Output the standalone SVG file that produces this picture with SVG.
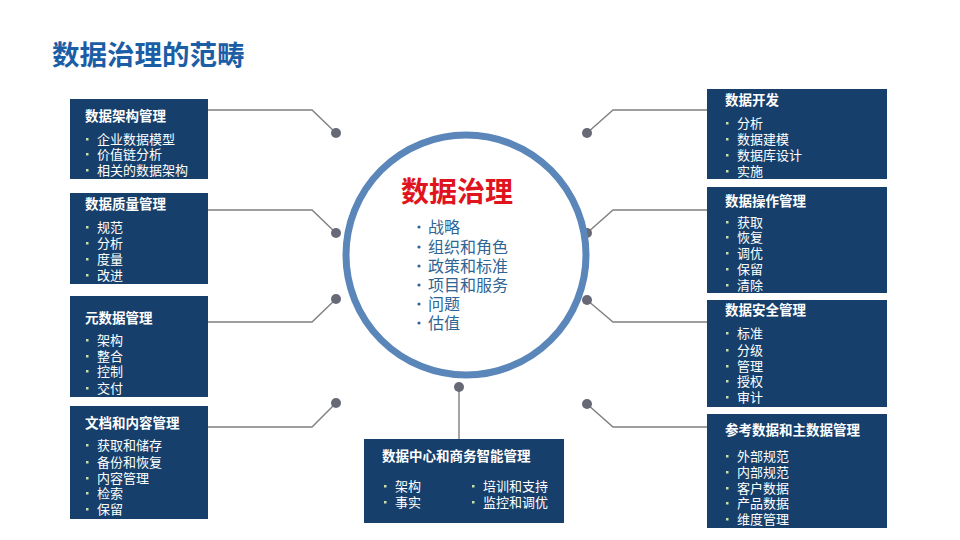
<svg xmlns="http://www.w3.org/2000/svg" width="960" height="540" viewBox="0 0 960 540">
<style>
text{font-family:"Noto Sans CJK SC","Noto Sans",sans-serif}
.box{fill:#173f6b}
.bt{fill:#ffffff;font-size:13.5px;font-weight:bold}
.it{fill:#ffffff;font-size:13px}
.bu{fill:#c8e2a8}
.con{fill:none;stroke:#7f7f7f;stroke-width:1.4}
.dot{fill:#676977}
.ci{fill:#2f6594;font-size:16px}
.cb{fill:#2f6594}
</style>
<rect width="960" height="540" fill="#ffffff"/>
<text x="52" y="65" style="font-size:27.5px;font-weight:bold;fill:#1c5ea6">数据治理的范畴</text>

<g id="connectors">
<polyline class="con" points="208,110 312,110 336,133"/>
<polyline class="con" points="208,210 312,210 336,233"/>
<polyline class="con" points="208,322 312,322 336,299"/>
<polyline class="con" points="208,427 312,427 336,403"/>
<polyline class="con" points="707,110 613,110 587,133"/>
<polyline class="con" points="707,210 613,210 587,233"/>
<polyline class="con" points="707,322 613,322 587,300"/>
<polyline class="con" points="707,427 613,427 587,404"/>
<line class="con" x1="459" y1="387" x2="459" y2="440"/>
<circle class="dot" cx="336" cy="133" r="5"/>
<circle class="dot" cx="336" cy="233" r="5"/>
<circle class="dot" cx="336" cy="299" r="5"/>
<circle class="dot" cx="336" cy="403" r="5"/>
<circle class="dot" cx="587" cy="133" r="5"/>
<circle class="dot" cx="587" cy="233" r="5"/>
<circle class="dot" cx="587" cy="300" r="5"/>
<circle class="dot" cx="587" cy="404" r="5"/>
</g>

<g id="center">
<circle cx="466" cy="255" r="120" fill="#ffffff" stroke="#5a86b9" stroke-width="7"/>
<circle class="dot" cx="459" cy="387" r="5"/>
<text x="457" y="202" text-anchor="middle" style="font-size:28px;font-weight:bold;fill:#e0141e">数据治理</text>
<circle class="cb" cx="419" cy="227" r="1.6"/><text class="ci" x="428" y="233">战略</text>
<circle class="cb" cx="419" cy="247" r="1.6"/><text class="ci" x="428" y="253">组织和角色</text>
<circle class="cb" cx="419" cy="266" r="1.6"/><text class="ci" x="428" y="272">政策和标准</text>
<circle class="cb" cx="419" cy="285" r="1.6"/><text class="ci" x="428" y="291">项目和服务</text>
<circle class="cb" cx="419" cy="304" r="1.6"/><text class="ci" x="428" y="310">问题</text>
<circle class="cb" cx="419" cy="323" r="1.6"/><text class="ci" x="428" y="329">估值</text>
</g>

<g id="n-arch">
<rect class="box" x="70" y="99" width="138" height="80"/>
<text class="bt" x="85" y="121">数据架构管理</text>
<rect class="bu" x="86" y="138" width="2.5" height="2.5"/><text class="it" x="97" y="144">企业数据模型</text>
<rect class="bu" x="86" y="153" width="2.5" height="2.5"/><text class="it" x="97" y="159">价值链分析</text>
<rect class="bu" x="86" y="169" width="2.5" height="2.5"/><text class="it" x="97" y="175">相关的数据架构</text>
</g>

<g id="n-quality">
<rect class="box" x="70" y="193" width="138" height="91"/>
<text class="bt" x="85" y="209">数据质量管理</text>
<rect class="bu" x="86" y="226" width="2.5" height="2.5"/><text class="it" x="97" y="232">规范</text>
<rect class="bu" x="86" y="242" width="2.5" height="2.5"/><text class="it" x="97" y="248">分析</text>
<rect class="bu" x="86" y="258" width="2.5" height="2.5"/><text class="it" x="97" y="264">度量</text>
<rect class="bu" x="86" y="274" width="2.5" height="2.5"/><text class="it" x="97" y="280">改进</text>
</g>

<g id="n-meta">
<rect class="box" x="70" y="296" width="138" height="101"/>
<text class="bt" x="85" y="323">元数据管理</text>
<rect class="bu" x="86" y="339" width="2.5" height="2.5"/><text class="it" x="97" y="345">架构</text>
<rect class="bu" x="86" y="355" width="2.5" height="2.5"/><text class="it" x="97" y="361">整合</text>
<rect class="bu" x="86" y="370" width="2.5" height="2.5"/><text class="it" x="97" y="376">控制</text>
<rect class="bu" x="86" y="387" width="2.5" height="2.5"/><text class="it" x="97" y="393">交付</text>
</g>

<g id="n-doc">
<rect class="box" x="70" y="406" width="138" height="113"/>
<text class="bt" x="85" y="428">文档和内容管理</text>
<rect class="bu" x="86" y="444" width="2.5" height="2.5"/><text class="it" x="97" y="450">获取和储存</text>
<rect class="bu" x="86" y="461" width="2.5" height="2.5"/><text class="it" x="97" y="467">备份和恢复</text>
<rect class="bu" x="86" y="477" width="2.5" height="2.5"/><text class="it" x="97" y="483">内容管理</text>
<rect class="bu" x="86" y="492" width="2.5" height="2.5"/><text class="it" x="97" y="498">检索</text>
<rect class="bu" x="86" y="508" width="2.5" height="2.5"/><text class="it" x="97" y="514">保留</text>
</g>

<g id="n-dev">
<rect class="box" x="707" y="89" width="180" height="90"/>
<text class="bt" x="725" y="105">数据开发</text>
<rect class="bu" x="726" y="122" width="2.5" height="2.5"/><text class="it" x="737" y="128">分析</text>
<rect class="bu" x="726" y="138" width="2.5" height="2.5"/><text class="it" x="737" y="144">数据建模</text>
<rect class="bu" x="726" y="154" width="2.5" height="2.5"/><text class="it" x="737" y="160">数据库设计</text>
<rect class="bu" x="726" y="170" width="2.5" height="2.5"/><text class="it" x="737" y="176">实施</text>
</g>

<g id="n-ops">
<rect class="box" x="707" y="187" width="180" height="106"/>
<text class="bt" x="725" y="206">数据操作管理</text>
<rect class="bu" x="726" y="221" width="2.5" height="2.5"/><text class="it" x="737" y="227">获取</text>
<rect class="bu" x="726" y="236" width="2.5" height="2.5"/><text class="it" x="737" y="242">恢复</text>
<rect class="bu" x="726" y="252" width="2.5" height="2.5"/><text class="it" x="737" y="258">调优</text>
<rect class="bu" x="726" y="268" width="2.5" height="2.5"/><text class="it" x="737" y="274">保留</text>
<rect class="bu" x="726" y="284" width="2.5" height="2.5"/><text class="it" x="737" y="290">清除</text>
</g>

<g id="n-sec">
<rect class="box" x="707" y="300" width="180" height="107"/>
<text class="bt" x="725" y="315">数据安全管理</text>
<rect class="bu" x="726" y="332" width="2.5" height="2.5"/><text class="it" x="737" y="338">标准</text>
<rect class="bu" x="726" y="349" width="2.5" height="2.5"/><text class="it" x="737" y="355">分级</text>
<rect class="bu" x="726" y="365" width="2.5" height="2.5"/><text class="it" x="737" y="371">管理</text>
<rect class="bu" x="726" y="380" width="2.5" height="2.5"/><text class="it" x="737" y="386">授权</text>
<rect class="bu" x="726" y="396" width="2.5" height="2.5"/><text class="it" x="737" y="402">审计</text>
</g>

<g id="n-master">
<rect class="box" x="707" y="414" width="180" height="114"/>
<text class="bt" x="725" y="435">参考数据和主数据管理</text>
<rect class="bu" x="726" y="455" width="2.5" height="2.5"/><text class="it" x="737" y="461">外部规范</text>
<rect class="bu" x="726" y="471" width="2.5" height="2.5"/><text class="it" x="737" y="477">内部规范</text>
<rect class="bu" x="726" y="487" width="2.5" height="2.5"/><text class="it" x="737" y="493">客户数据</text>
<rect class="bu" x="726" y="502" width="2.5" height="2.5"/><text class="it" x="737" y="508">产品数据</text>
<rect class="bu" x="726" y="518" width="2.5" height="2.5"/><text class="it" x="737" y="524">维度管理</text>
</g>

<g id="n-bi">
<rect class="box" x="364" y="439" width="200" height="84"/>
<text class="bt" x="382" y="461">数据中心和商务智能管理</text>
<rect class="bu" x="384" y="485" width="2.5" height="2.5"/><text class="it" x="395" y="491">架构</text>
<rect class="bu" x="384" y="501" width="2.5" height="2.5"/><text class="it" x="395" y="507">事实</text>
<rect class="bu" x="472" y="485" width="2.5" height="2.5"/><text class="it" x="483" y="491">培训和支持</text>
<rect class="bu" x="472" y="501" width="2.5" height="2.5"/><text class="it" x="483" y="507">监控和调优</text>
</g>
</svg>
